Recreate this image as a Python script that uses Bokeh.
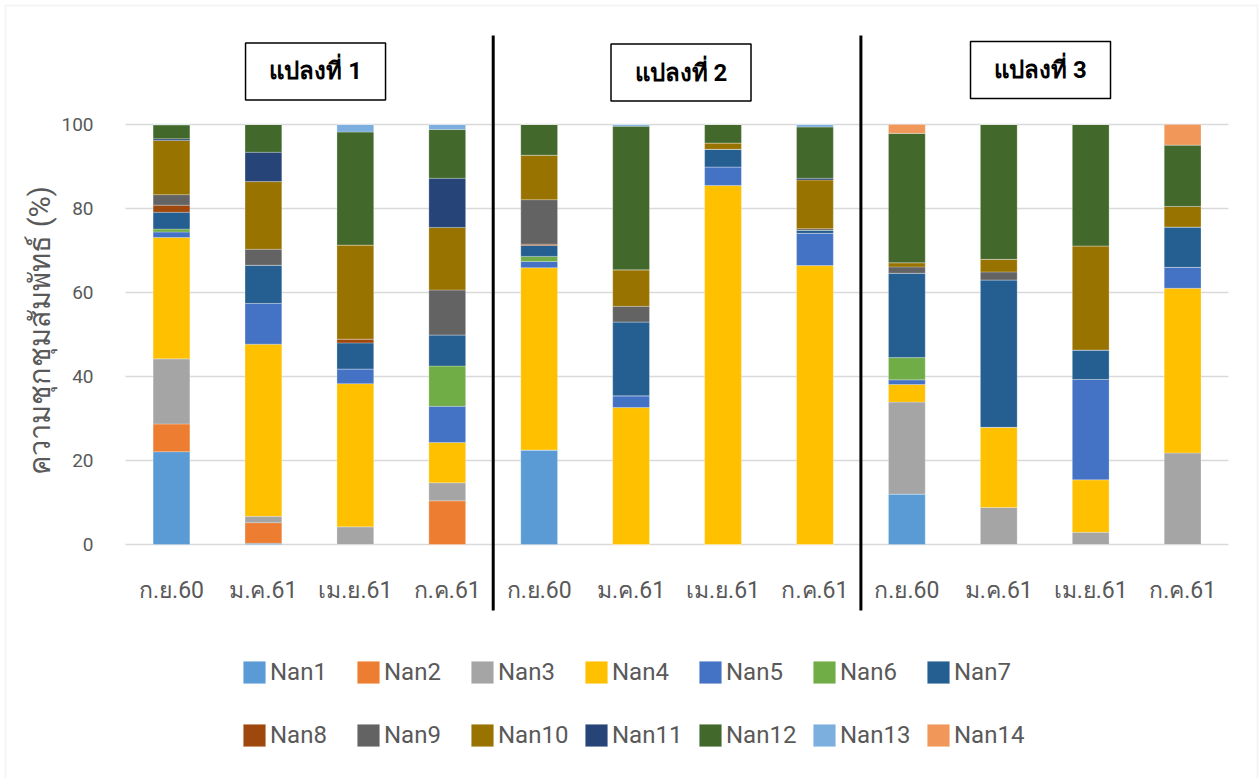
from bokeh.plotting import figure
from bokeh.models import Range1d, Legend, LegendItem, BoxAnnotation, ColumnDataSource
from bokeh.core.properties import value
from bokeh.embed import file_html
from bokeh.resources import INLINE
import math

# Sampling months, repeated for each of the three plots
months = ["ก.ย.60", "ม.ค.61", "เม.ย.61", "ก.ค.61"]
bar_labels = months * 3
plot_titles = ["แปลงที่ 1", "แปลงที่ 2", "แปลงที่ 3"]
y_ticks = [0, 20, 40, 60, 80, 100]
y_title = "ความชุกชุมสัมพัทธ์ (%)"

series = ["Nan1", "Nan2", "Nan3", "Nan4", "Nan5", "Nan6", "Nan7",
          "Nan8", "Nan9", "Nan10", "Nan11", "Nan12", "Nan13", "Nan14"]

# Relative abundance (%) per bar: plot 1 (4 months), plot 2 (4 months), plot 3 (4 months)
nan1 = [22.1, 0.3, 0, 0, 22.5, 0, 0, 0, 12.0, 0, 0, 0]
nan2 = [6.6, 4.9, 0, 10.4, 0, 0, 0, 0, 0, 0, 0, 0]
nan3 = [15.5, 1.5, 4.2, 4.3, 0, 0, 0, 0, 21.9, 8.8, 2.9, 21.8]
nan4 = [28.9, 41.0, 34.1, 9.6, 43.4, 32.6, 85.5, 66.4, 4.2, 19.1, 12.5, 39.2]
nan5 = [1.3, 9.7, 3.5, 8.6, 1.5, 2.8, 4.4, 7.7, 1.1, 0, 23.9, 5.0]
nan6 = [0.7, 0, 0, 9.6, 1.2, 0, 0, 0, 5.3, 0, 0, 0]
nan7 = [4.0, 9.1, 6.2, 7.4, 2.6, 17.6, 4.2, 0.7, 20.1, 35.1, 7.0, 9.6]
nan8 = [1.7, 0, 0.9, 0, 0.3, 0, 0, 0, 0, 0, 0, 0]
nan9 = [2.5, 3.8, 0, 10.7, 10.6, 3.7, 0, 0.4, 1.5, 1.9, 0, 0]
nan10 = [12.9, 16.1, 22.4, 14.9, 10.6, 8.7, 1.5, 11.6, 1.0, 3.0, 24.8, 4.9]
nan11 = [0.4, 7.0, 0, 11.7, 0, 0, 0, 0.4, 0, 0, 0, 0]
nan12 = [3.3, 6.6, 26.9, 11.6, 7.3, 34.2, 4.4, 12.2, 30.8, 32.1, 28.9, 14.6]
nan13 = [0.1, 0, 1.8, 1.2, 0, 0.4, 0, 0.6, 0, 0, 0, 0]
nan14 = [0, 0, 0, 0, 0, 0, 0, 0, 2.1, 0, 0, 4.9]

colors = ["#5B9BD5", "#ED7D31", "#A5A5A5", "#FFC000", "#4472C4", "#70AD47", "#255E91",
          "#9E480E", "#636363", "#997300", "#264478", "#43682B", "#7CAFDD", "#F1975A"]

values = [nan1, nan2, nan3, nan4, nan5, nan6, nan7,
          nan8, nan9, nan10, nan11, nan12, nan13, nan14]
xpos = list(range(len(bar_labels)))

data = {"x": xpos}
for name, vals in zip(series, values):
    data[name] = vals
source = ColumnDataSource(data)

TEXT_GRAY = "#595959"
FONT = "Roboto"
GRID = "#d9d9d9"

# Canvas-wide frame: one bar slot is ~92 px, one percent is 4.2 px
X0, X1 = -1.8603, 11.8473
Y0, Y1 = -55.714, 129.524
x_left, x_right = -0.5, 11.5

p = figure(width=1260, height=778, output_backend="svg", toolbar_location=None,
           x_range=Range1d(X0, X1), y_range=Range1d(Y0, Y1),
           min_border=0)
p.outline_line_color = None
p.axis.visible = False
p.grid.visible = False
p.background_fill_color = "white"
p.border_fill_color = "white"

# Horizontal gridlines and value scale
p.segment(x0=[x_left] * len(y_ticks), y0=y_ticks, x1=[x_right] * len(y_ticks), y1=y_ticks,
          line_color=GRID, line_width=1.5)
p.text(x=[-0.8486] * len(y_ticks), y=y_ticks, text=[str(t) for t in y_ticks],
       text_font=value(FONT), text_font_size="19px", text_color=TEXT_GRAY,
       text_align="right", text_baseline="middle")
p.text(x=[-1.4252], y=[51.0], text=[y_title], angle=math.pi / 2,
       text_font=value(FONT), text_font_size="29px", text_color=TEXT_GRAY,
       text_align="center", text_baseline="middle")

# Stacked bars
renderers = p.vbar_stack(series, x="x", width=0.40, source=source,
                         color=colors, line_color="white", line_width=0.5, line_alpha=0.5)

# Month labels under each bar
p.text(x=xpos, y=[-10.95] * len(xpos), text=bar_labels,
       text_font=value(FONT), text_font_size="23px", text_color=TEXT_GRAY,
       text_align="center", text_baseline="middle")

# Separators between the three plots
p.segment(x0=[3.5, 7.5], y0=[-15.714, -15.714], x1=[3.5, 7.5], y1=[121.19, 121.19],
          line_color="black", line_width=3)

# Plot title boxes
title_x = [1.567, 5.543, 9.454]
title_y = [112.62, 112.38, 112.98]
p.rect(x=title_x, y=title_y, width=140, height=57, width_units="screen",
       height_units="screen", fill_color="white", line_color="black", line_width=1.5)
p.text(x=title_x, y=title_y, text=plot_titles, text_font=value(FONT),
       text_font_size="24px", text_font_style="bold", text_color="black",
       text_align="center", text_baseline="middle")

# Two-row legend below the chart
def make_legend(idx, loc):
    items = [LegendItem(label=series[i], renderers=[renderers[i]]) for i in idx]
    return Legend(items=items, location=loc, orientation="horizontal",
                  glyph_width=28, glyph_height=28, label_standoff=2, label_width=78,
                  spacing=6, padding=0, margin=0, border_line_color=None,
                  background_fill_alpha=0, label_text_font=FONT,
                  label_text_font_size="24px", label_text_color=TEXT_GRAY)

p.add_layout(make_legend(range(0, 7), (240, 92)))
p.add_layout(make_legend(range(7, 14), (240, 29)))

# Light frame around the whole chart
p.add_layout(BoxAnnotation(left=5, right=1257, top=773, bottom=-3,
                           left_units="screen", right_units="screen",
                           top_units="screen", bottom_units="screen",
                           fill_alpha=0, line_color=GRID, line_width=2))

open("out.html", "w").write(file_html(p, INLINE))
